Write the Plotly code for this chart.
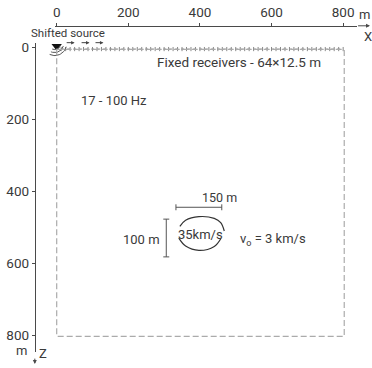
import numpy as np
import plotly.graph_objects as go

# ---------------- data (metres) ----------------
x_ticks = [0, 200, 400, 600, 800]
x_ticktext = ["0", "200", "400", "600", "800"]
z_ticks = [0, 200, 400, 600, 800]
z_ticktext = ["0", "200", "400", "600", "800"]

model_x = [0, 803]
model_z = [5, 803]

n_receivers = 64
receiver_spacing = 12.5
receiver_x = [receiver_spacing * (i + 1) for i in range(n_receivers)]
receiver_z = [4] * n_receivers

source_x = [0]
source_z = [-4]

anomaly_top_x = [344, 360, 397, 440, 458, 468]
anomaly_top_z = [497, 480, 470, 475, 487, 510]
anomaly_bot_x = [341, 360, 397, 440, 459]
anomaly_bot_z = [530, 552, 564, 553, 530]

width_bracket_x = [333, 461]
width_bracket_z = 444
height_bracket_x = 306
height_bracket_z = [477, 582]

# ---------------- pixel <-> metre mapping ----------------
W, H = 372, 368
X0, SX = 55.0, 0.36      # px of x=0, px per metre
Z0, SZ = 45.0, 0.3625    # px of z=0, px per metre


def mx(px):
    return (px - X0) / SX


def mz(py):
    return (py - Z0) / SZ


TXT = "#3a3a3a"
LINE = "#4a4a4a"
FONT = "Roboto"

fig = go.Figure()

# visible axes subplot
fig.add_trace(go.Scatter(x=[None], y=[None], xaxis="x", yaxis="y", showlegend=False))

# model outline
fig.add_shape(type="rect", xref="x2", yref="y2", x0=model_x[0], x1=model_x[1],
              y0=model_z[0], y1=model_z[1],
              line=dict(color="#ababab", width=1.2, dash="6px,3px"))

# receivers
fig.add_trace(go.Scatter(x=receiver_x, y=receiver_z, xaxis="x2", yaxis="y2",
                         mode="lines+markers", showlegend=False, hoverinfo="skip",
                         line=dict(color="#888", width=1, dash="dot"),
                         marker=dict(symbol="line-ns", size=3,
                                     line=dict(color="#888", width=1))))

# source
fig.add_trace(go.Scatter(x=source_x, y=source_z, xaxis="x2", yaxis="y2",
                         mode="markers", showlegend=False, hoverinfo="skip",
                         marker=dict(symbol="triangle-down", size=9, color="#111")))

# wavefront arcs
t = np.radians(np.linspace(15, 115, 20))
for r in [6, 9, 12]:
    fig.add_trace(go.Scatter(x=mx(53) + (r / SX) * np.cos(t),
                             y=mz(41) + (r / SZ) * np.sin(t),
                             xaxis="x2", yaxis="y2", mode="lines", showlegend=False,
                             hoverinfo="skip", line=dict(color="#555", width=1)))

# anomaly
for ax_, az_ in [(anomaly_top_x, anomaly_top_z), (anomaly_bot_x, anomaly_bot_z)]:
    fig.add_trace(go.Scatter(x=ax_, y=az_, xaxis="x2", yaxis="y2", mode="lines",
                             showlegend=False, hoverinfo="skip",
                             line=dict(color="#333", width=1.2, shape="spline")))

# brackets
cap = 3
fig.add_trace(go.Scatter(
    x=[width_bracket_x[0], width_bracket_x[1], None,
       width_bracket_x[0], width_bracket_x[0], None,
       width_bracket_x[1], width_bracket_x[1]],
    y=[width_bracket_z, width_bracket_z, None,
       width_bracket_z - cap / SZ, width_bracket_z + cap / SZ, None,
       width_bracket_z - cap / SZ, width_bracket_z + cap / SZ],
    xaxis="x2", yaxis="y2", mode="lines", showlegend=False, hoverinfo="skip",
    line=dict(color="#555", width=1)))
fig.add_trace(go.Scatter(
    x=[height_bracket_x, height_bracket_x, None,
       height_bracket_x - cap / SX, height_bracket_x + cap / SX, None,
       height_bracket_x - cap / SX, height_bracket_x + cap / SX],
    y=[height_bracket_z[0], height_bracket_z[1], None,
       height_bracket_z[0], height_bracket_z[0], None,
       height_bracket_z[1], height_bracket_z[1]],
    xaxis="x2", yaxis="y2", mode="lines", showlegend=False, hoverinfo="skip",
    line=dict(color="#555", width=1)))

ann = []


def text(x, y, s, size=13, xanchor="left", yanchor="middle"):
    ann.append(dict(x=x, y=y, xref="x2", yref="y2", text=s, showarrow=False,
                    xanchor=xanchor, yanchor=yanchor,
                    font=dict(family=FONT, size=size, color=TXT)))


text(mx(154), mz(59), "Fixed receivers - 64×12.5 m", 13.5)
text(mx(77), mz(98), "17 - 100 Hz", 13)
text(mx(27), mz(30), "Shifted source", 11.5)
text(mx(199), mz(196), "150 m", 12.5)
text(mx(161), mz(238), "100 m", 13, xanchor="right")
text(mx(200), mz(233), "35km/s", 13, xanchor="center")
text(mx(237), mz(238), "v<sub>o</sub> = 3 km/s", 13)
text(mx(364), mz(12), "m", 13, xanchor="center")
text(mx(368), mz(34), "X", 13, xanchor="center")
text(mx(20), mz(350), "m", 13, xanchor="center")
text(mx(41), mz(353), "Z", 13, xanchor="center")

# axis arrows
ann.append(dict(x=mx(370), y=mz(23), ax=mx(355), ay=mz(23), xref="x2", yref="y2",
                axref="x2", ayref="y2", showarrow=True, arrowhead=2, arrowsize=0.8,
                arrowwidth=1, arrowcolor=LINE, text=" "))
ann.append(dict(x=mx(33), y=mz(364), ax=mx(33), ay=mz(350), xref="x2", yref="y2",
                axref="x2", ayref="y2", showarrow=True, arrowhead=2, arrowsize=0.8,
                arrowwidth=1, arrowcolor=LINE, text=" "))

# shifted source arrows
for a, b in [(62, 73), (77, 88), (91, 102)]:
    ann.append(dict(x=mx(b), y=mz(40), ax=mx(a), ay=mz(40), xref="x2", yref="y2",
                    axref="x2", ayref="y2", showarrow=True, arrowhead=2, arrowsize=0.7,
                    arrowwidth=1, arrowcolor="#444", text=" "))

# visible axis geometry
xd0, xd1 = 53, 357
yd0, yd1 = 40, 352

fig.update_layout(
    width=W, height=H, margin=dict(l=0, r=0, t=0, b=0),
    paper_bgcolor="white", plot_bgcolor="rgba(0,0,0,0)",
    showlegend=False, annotations=ann,
    font=dict(family=FONT, color=TXT),
    xaxis=dict(domain=[xd0 / W, xd1 / W], range=[mx(xd0), mx(xd1)],
               anchor="free", position=1 - 23 / H, side="top",
               showline=True, linecolor=LINE, linewidth=1, showgrid=False,
               zeroline=False, ticks="outside", ticklen=3, tickcolor=LINE,
               tickvals=x_ticks, ticktext=x_ticktext,
               tickfont=dict(family=FONT, size=13.5, color=TXT)),
    yaxis=dict(domain=[1 - yd1 / H, 1 - yd0 / H], range=[mz(yd1), mz(yd0)],
               anchor="free", position=33 / W, side="left",
               showline=True, linecolor=LINE, linewidth=1, showgrid=False,
               zeroline=False, ticks="outside", ticklen=3, tickcolor=LINE,
               tickvals=z_ticks, ticktext=z_ticktext,
               tickfont=dict(family=FONT, size=13.5, color=TXT)),
    xaxis2=dict(domain=[0, 1], range=[mx(0), mx(W)], visible=False,
                anchor="y2", fixedrange=True),
    yaxis2=dict(domain=[0, 1], range=[mz(H), mz(0)], visible=False,
                anchor="x2", fixedrange=True),
)

fig.write_html("out.html")
